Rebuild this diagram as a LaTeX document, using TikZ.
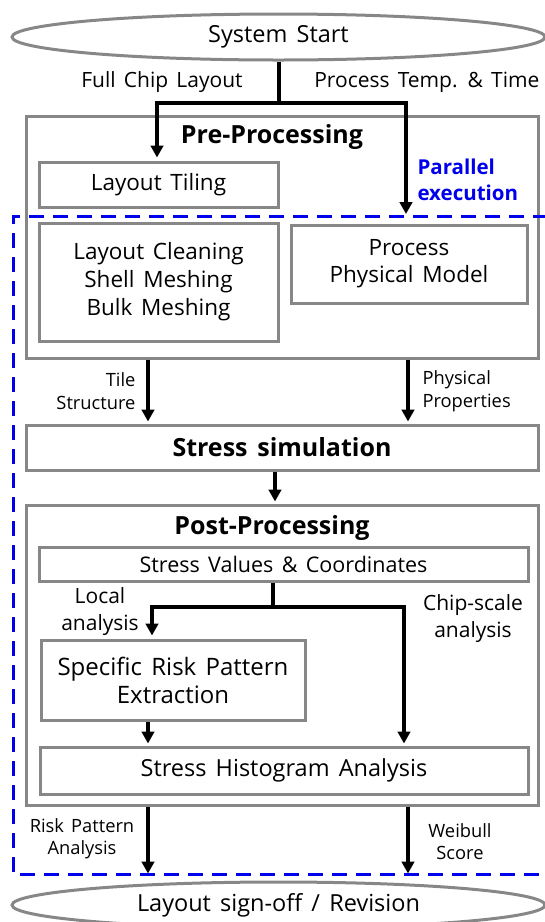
\documentclass[tikz,border=0pt]{standalone}
\usepackage{fontspec}
\setmainfont{Open Sans}[WordSpace=1.5]
\usetikzlibrary{arrows.meta,shapes.geometric,positioning,calc}
\definecolor{edgegray}{RGB}{135,135,135}
\definecolor{zoneblue}{RGB}{0,0,235}
\tikzset{
  terminal/.style={ellipse, draw=edgegray, line width=3pt, inner sep=0pt, font=\fontsize{23.5}{28}\selectfont},
  stage/.style={rectangle, draw=edgegray, line width=3pt, inner sep=0pt},
  block/.style={rectangle, draw=edgegray, line width=3pt, inner sep=0pt, align=center, font=\fontsize{22.5}{28}\selectfont},
  flow/.style={-{Triangle[length=12pt,width=12.5pt]}, line width=4.5pt, black},
  trunk/.style={line width=4.5pt, black},
  title/.style={font=\bfseries\fontsize{25}{28}\selectfont},
  note/.style={align=center, font=\fontsize{21}{26.5}\selectfont},
  small/.style={font=\fontsize{18.3}{22.5}\selectfont},
  zone/.style={zoneblue, line width=3pt, dash pattern=on 15pt off 9pt}
}

\begin{document}
\begin{tikzpicture}[x=1pt,y=-1pt]
  \useasboundingbox (0,0) rectangle (545,922);
  \node[terminal, minimum width=533pt, minimum height=46pt] (start) at (278.5,37) {System Start};
  \node[stage, minimum width=512pt, minimum height=242pt] (pre) at (282,237) {};
  \node[title] (pretitle) at (272,137) {Pre-Processing};
  \node[block, minimum width=239pt, minimum height=45pt] (tiling) at (158.5,184.5) {Layout Tiling};
  \node[block, minimum width=239pt, minimum height=118pt] (cleaning) at (158.5,282) {Layout Cleaning\\Shell Meshing\\Bulk Meshing};
  \node[block, minimum width=236pt, minimum height=78pt, font=\fontsize{22.5}{27}\selectfont] (model) at (409,264) {Process\\Physical Model};
  \node[stage, minimum width=512pt, minimum height=45pt, title] (sim) at (282,447.5) {Stress simulation};
  \node[stage, minimum width=512pt, minimum height=300pt] (post) at (282,655) {};
  \node[title] (posttitle) at (272,528) {Post-Processing};
  \node[block, minimum width=489pt, minimum height=34pt, font=\fontsize{21.5}{26}\selectfont] (values) at (283.5,564) {Stress Values \& Coordinates};
  \node[block, minimum width=264pt, minimum height=80pt, font=\fontsize{24}{28}\selectfont] (specific) at (173,680) {Specific Risk Pattern\\Extraction};
  \node[block, minimum width=488pt, minimum height=47pt, font=\fontsize{23.5}{28}\selectfont] (hist) at (284,770.5) {Stress Histogram Analysis};
  \node[terminal, minimum width=533pt, minimum height=46pt] (end) at (278.5,905) {Layout sign-off / Revision};

  \node[note] (chipin) at (162,82) {Full Chip Layout};
  \node[note, anchor=east] (procin) at (543,82) {Process Temp. \& Time};
  \node[title, zoneblue, anchor=west, align=left, font=\bfseries\fontsize{20.5}{26}\selectfont] (parallel) at (414,180) {Parallel\\execution};
  \node[note, small, anchor=east, align=right] (tilestr) at (139,391) {Tile\\Structure};
  \node[note, small, anchor=west, align=left] (physprop) at (419,391) {Physical\\Properties};
  \node[note] (local) at (100,611.5) {Local\\analysis};
  \node[note] (chipscale) at (473,618.5) {Chip-scale\\analysis};
  \node[note, small] (riskan) at (82,838.5) {Risk Pattern\\Analysis};
  \node[note, small] (weibull) at (460,841.5) {Weibull\\Score};

  \draw[zone] (548,216) -- (13,216) -- (13,874) -- (548,874);

  \coordinate (fork1) at (279,103);
  \coordinate (fork2) at (273,607);
  \coordinate (par) at (406,214);
  \coordinate (xl) at (148,0);
  \coordinate (xr) at (408,0);
  \coordinate (xm) at (275,0);
  \coordinate (xs) at (152,0);
  \coordinate (xc) at (404,0);

  \draw[trunk] (start.south -| fork1) -- (fork1);
  \draw[flow, shorten >=3pt] (fork1) -| (tiling.north -| 157,0);
  \draw[flow] (fork1) -| (par);
  \draw[flow, shorten >=2pt] (pre.south -| xl) -- (sim.north -| xl);
  \draw[flow, shorten >=2pt] (pre.south -| xr) -- (sim.north -| xr);
  \draw[flow, shorten >=2pt] (sim.south -| xm) -- (post.north -| xm);
  \draw[trunk] (values.south -| fork2) -- (fork2);
  \draw[flow, shorten >=3pt] (fork2) -| (specific.north -| xs);
  \draw[flow, shorten >=2pt] (fork2) -| (hist.north -| xc);
  \draw[flow, shorten >=2pt] (specific.south -| xl) -- (hist.north -| xl);
  \draw[flow, shorten >=7pt] (post.south -| xl) -- (end.north -| xl);
  \draw[flow, shorten >=7pt] (post.south -| xr) -- (end.north -| xr);
\end{tikzpicture}
\end{document}
